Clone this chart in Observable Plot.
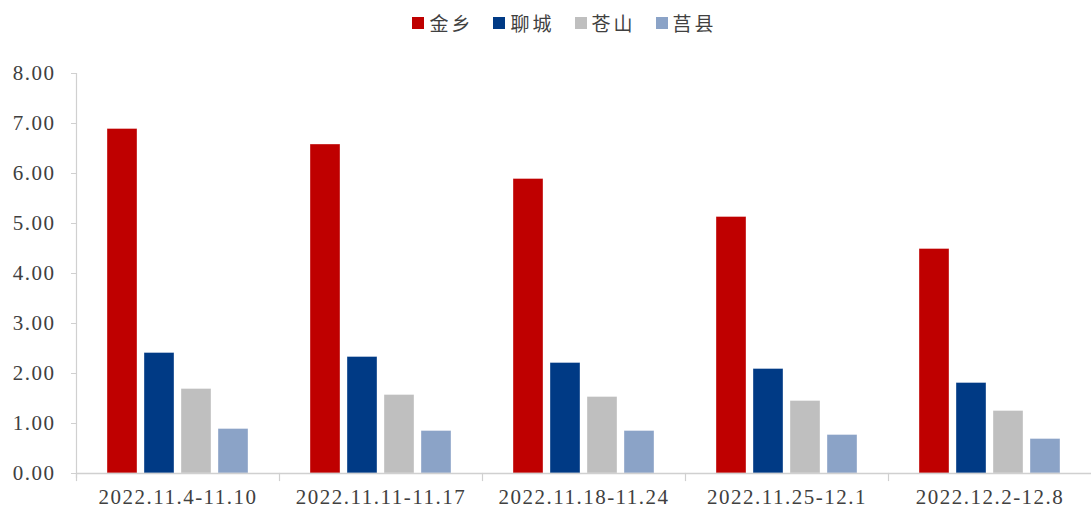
<!DOCTYPE html>
<html>
<head>
<meta charset="utf-8">
<script src="https://cdn.jsdelivr.net/npm/d3@7"></script>
<script src="https://cdn.jsdelivr.net/npm/@observablehq/plot@0.6"></script>
<style>
  html, body { margin: 0; padding: 0; background: #fff; }
  #wrap { width: 1091px; height: 509px; position: relative; }
  #legend { height: 45px; display: flex; justify-content: center; align-items: center; gap: 20px; padding-left: 38px; box-sizing: border-box;
    font-family: "Noto Sans CJK SC", sans-serif; font-size: 19px; color: #404040; letter-spacing: 3px; }
  .item { display: flex; align-items: center; }
  .sw { width: 12px; height: 12px; margin-right: 5px; display: inline-block; }
</style>
</head>
<body>
<div id="wrap">
  <div id="legend"></div>
  <div id="chart"></div>
</div>
<script>
const weeks = ["2022.11.4-11.10", "2022.11.11-11.17", "2022.11.18-11.24", "2022.11.25-12.1", "2022.12.2-12.8"];
const series = ["金乡", "聊城", "苍山", "莒县"];
const jinxiang  = [6.89, 6.58, 5.89, 5.13, 4.49];
const liaocheng = [2.41, 2.33, 2.21, 2.09, 1.81];
const cangshan  = [1.69, 1.57, 1.53, 1.45, 1.25];
const juxian    = [0.89, 0.85, 0.85, 0.77, 0.69];
const colors = ["#BF0000", "#003A85", "#BFBFBF", "#8BA3C7"];
const yTicks = [0, 1, 2, 3, 4, 5, 6, 7, 8];

const valuesBySeries = [jinxiang, liaocheng, cangshan, juxian];
const data = [];
weeks.forEach((w, i) => {
  series.forEach((s, j) => data.push({week: w, series: s, value: valuesBySeries[j][i]}));
});

// legend
const legend = document.getElementById("legend");
series.forEach((s, j) => {
  const it = document.createElement("div");
  it.className = "item";
  const sw = document.createElement("span");
  sw.className = "sw";
  sw.style.background = colors[j];
  it.appendChild(sw);
  const t = document.createElement("span");
  t.textContent = s;
  it.appendChild(t);
  legend.appendChild(it);
});

const axisColor = "#D0D0D0";
const chart = Plot.plot({
  width: 1091,
  height: 464,
  marginLeft: 75,
  marginRight: 0,
  marginTop: 28,
  marginBottom: 36,
  style: {fontFamily: "'Liberation Serif', 'Times New Roman', serif", fontSize: "21px", color: "#404040", letterSpacing: "1.5px"},
  fx: {domain: weeks, padding: 0, label: null, tickSize: 0, tickPadding: 16},
  x: {domain: series, axis: null, paddingInner: 0.2, paddingOuter: 0.8},
  y: {domain: [0, 8], label: null, axis: null},
  color: {domain: series, range: colors},
  marks: [
    Plot.barY(data, {fx: "week", x: "series", y: "value", fill: "series", stroke: "#ffffff", strokeWidth: 0.6, strokeOpacity: 0.6}),
    Plot.ruleY([0], {stroke: axisColor, strokeWidth: 1.5}),
    Plot.frame({anchor: "left", stroke: axisColor, strokeWidth: 1.2, insetTop: 400, insetBottom: -7}),
    Plot.frame({anchor: "left", stroke: axisColor, strokeWidth: 1.2, facetAnchor: "left", insetBottom: -4}),
    Plot.axisY({ticks: yTicks, tickFormat: d3.format(".2f"), tickSize: 5, tickPadding: 16, stroke: axisColor, fill: "#404040", label: null})
  ]
});
document.getElementById("chart").appendChild(chart);
</script>
</body>
</html>
